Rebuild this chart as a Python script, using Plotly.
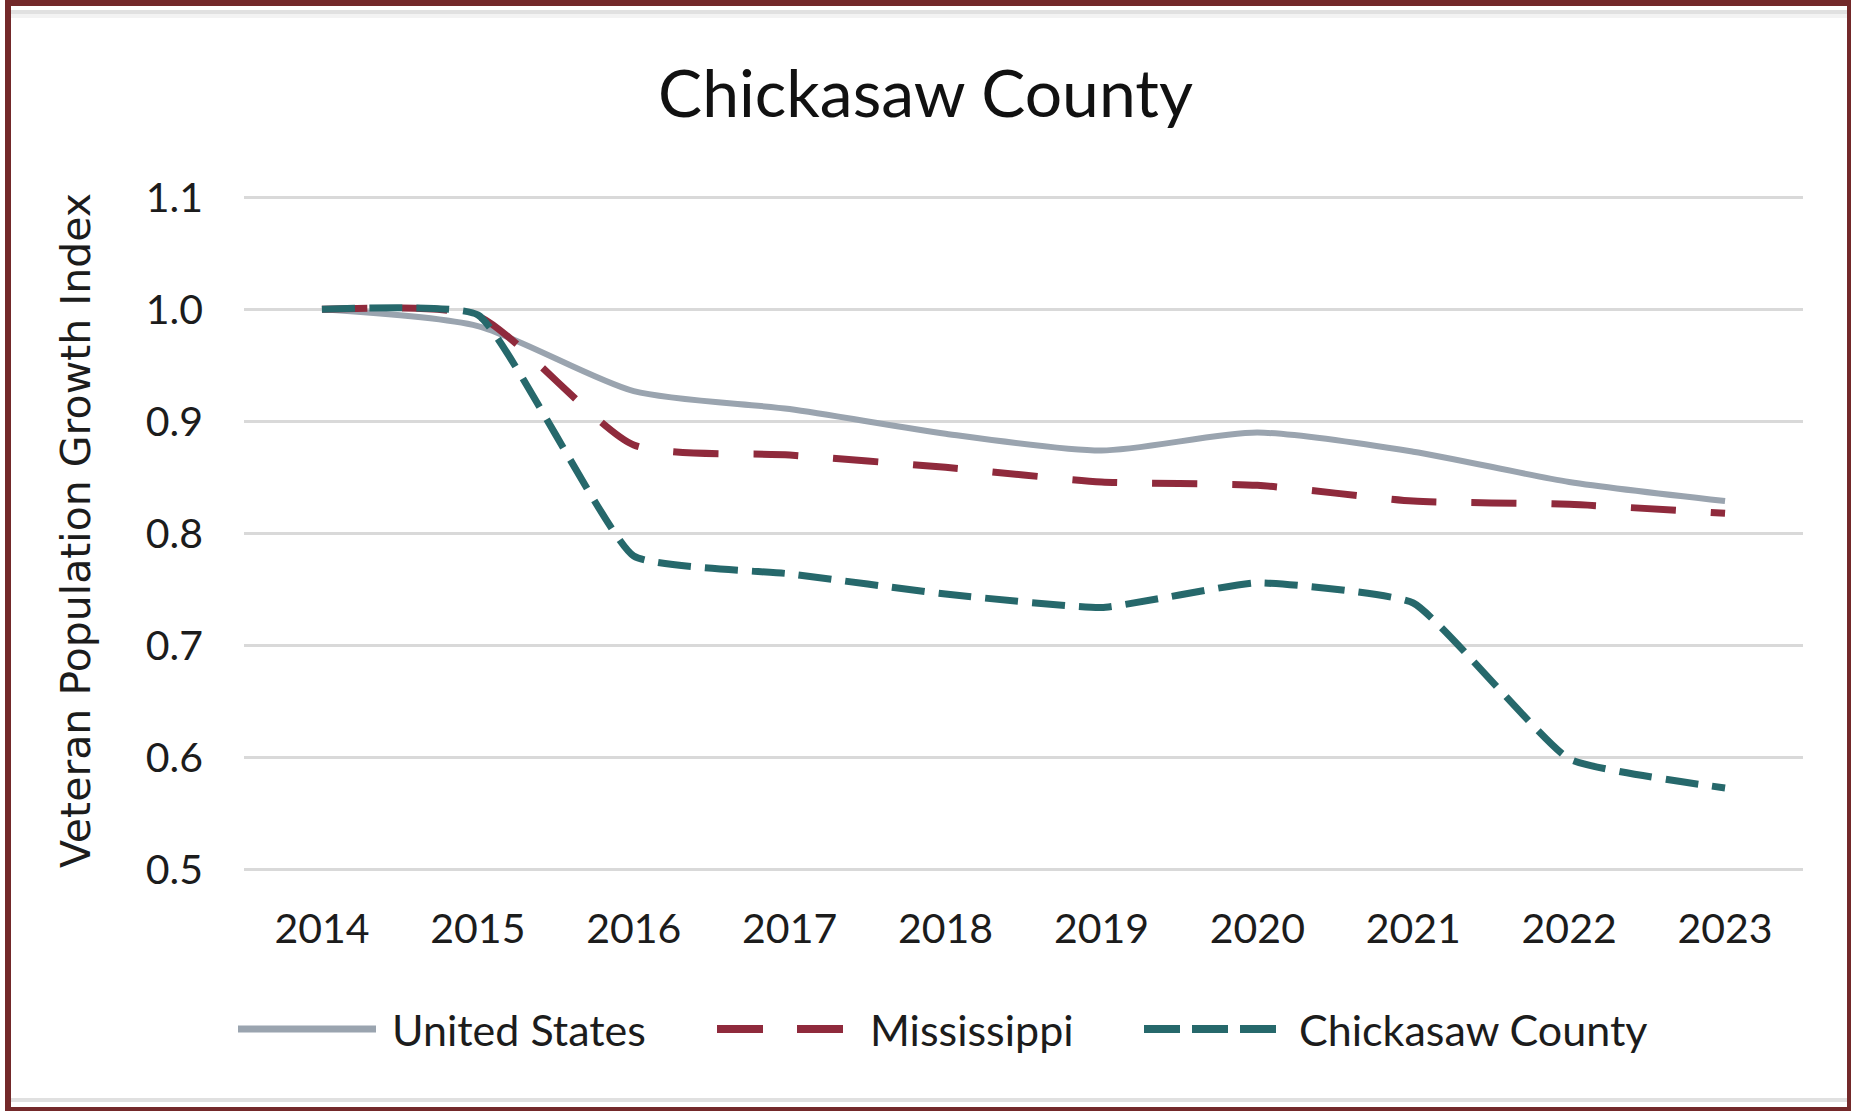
import plotly.graph_objects as go

years = ["2014", "2015", "2016", "2017", "2018", "2019", "2020", "2021", "2022", "2023"]
us = [1.000, 0.985, 0.927, 0.911, 0.889, 0.874, 0.890, 0.873, 0.846, 0.829]
ms = [1.000, 0.994, 0.879, 0.870, 0.859, 0.846, 0.843, 0.829, 0.826, 0.818]
chick = [1.000, 0.995, 0.780, 0.764, 0.746, 0.734, 0.756, 0.738, 0.599, 0.573]
series_names = ["United States", "Mississippi", "Chickasaw County"]
y_ticks = [0.5, 0.6, 0.7, 0.8, 0.9, 1.0, 1.1]

W, H = 1851, 1111
ML, MR, MT, MB = 244, 48, 186, 230
PW, PH = W - ML - MR, H - MT - MB

def px(x):
    return (x - ML) / PW

def py(y):
    return 1 - (y - MT) / PH

C_US = "#9AA4AF"
C_MS = "#8F2A3C"
C_CH = "#26686B"
FRAME = "#73292A"
FONT = "Lato"
TXT = "#1c1c1c"

styles = [
    dict(color=C_US, width=6, dash="solid", smooth=0.7, ldash="solid"),
    dict(color=C_MS, width=7, dash="45px,35px", smooth=0.6, ldash="46px,34px"),
    dict(color=C_CH, width=7, dash="33px,14px", smooth=0.4, ldash="36px,12px"),
]

fig = go.Figure()
for name, vals, st in zip(series_names, [us, ms, chick], styles):
    fig.add_trace(go.Scatter(
        x=years, y=vals, name=name, mode="lines",
        line=dict(color=st["color"], width=st["width"], dash=st["dash"],
                  shape="spline", smoothing=st["smooth"]),
        showlegend=False,
    ))

shapes = [
    dict(type="rect", xref="paper", yref="paper", x0=px(8), x1=px(1850), y0=py(3), y1=py(1110),
         line=dict(color=FRAME, width=6), fillcolor="rgba(0,0,0,0)", layer="above"),
    dict(type="line", xref="paper", yref="paper", x0=px(11), x1=px(1847), y0=py(12), y1=py(12),
         line=dict(color="#e1e1e1", width=4)),
    dict(type="line", xref="paper", yref="paper", x0=px(11), x1=px(1847), y0=py(16), y1=py(16),
         line=dict(color="#f3f3f3", width=4)),
    dict(type="line", xref="paper", yref="paper", x0=px(11), x1=px(1847), y0=py(1100), y1=py(1100),
         line=dict(color="#e0e0e0", width=4)),
]

legend_y = 1029
legend_items = [
    (238, 376, 390),
    (717, 846, 868),
    (1144, 1277, 1297),
]
annotations = []
for (x0, x1, xt), name, st in zip(legend_items, series_names, styles):
    shapes.append(dict(type="line", xref="paper", yref="paper", x0=px(x0), x1=px(x1),
                       y0=py(legend_y), y1=py(legend_y),
                       line=dict(color=st["color"], width=st["width"] + 1, dash=st["ldash"])))
    annotations.append(dict(text=name, xref="paper", yref="paper", x=px(xt), y=py(legend_y),
                            xanchor="left", yanchor="middle", showarrow=False,
                            font=dict(family=FONT, size=43, color=TXT)))

annotations.append(dict(text="Veteran Population Growth Index", xref="paper", yref="paper",
                        x=px(76), y=py(531), xanchor="center", yanchor="middle", textangle=-90,
                        showarrow=False, font=dict(family="DejaVu Sans", size=41, color=TXT)))

fig.update_layout(
    width=W, height=H,
    margin=dict(l=ML, r=MR, t=MT, b=MB, pad=0),
    paper_bgcolor="white", plot_bgcolor="white",
    title=dict(text="Chickasaw County", x=0.5, xref="container", xanchor="center",
               y=1 - 94 / H, yref="container", yanchor="middle",
               font=dict(family=FONT, size=66, color="#111111")),
    shapes=shapes, annotations=annotations,
    showlegend=False,
)
fig.update_xaxes(
    type="category", range=[-0.5, 9.5], showgrid=False, zeroline=False, showline=False,
    ticks="", tickfont=dict(family=FONT, size=41, color=TXT), ticklabelstandoff=20,
)
fig.update_yaxes(
    range=[0.49, 1.11], tickvals=y_ticks, tickformat=".1f",
    showgrid=True, gridcolor="#d9d9d9", gridwidth=3, zeroline=False, showline=False,
    ticks="", tickfont=dict(family=FONT, size=41, color=TXT), ticklabelstandoff=40,
)

fig.write_html("out.html", config={"displayModeBar": False},
               post_script="document.body.style.margin='0';")
